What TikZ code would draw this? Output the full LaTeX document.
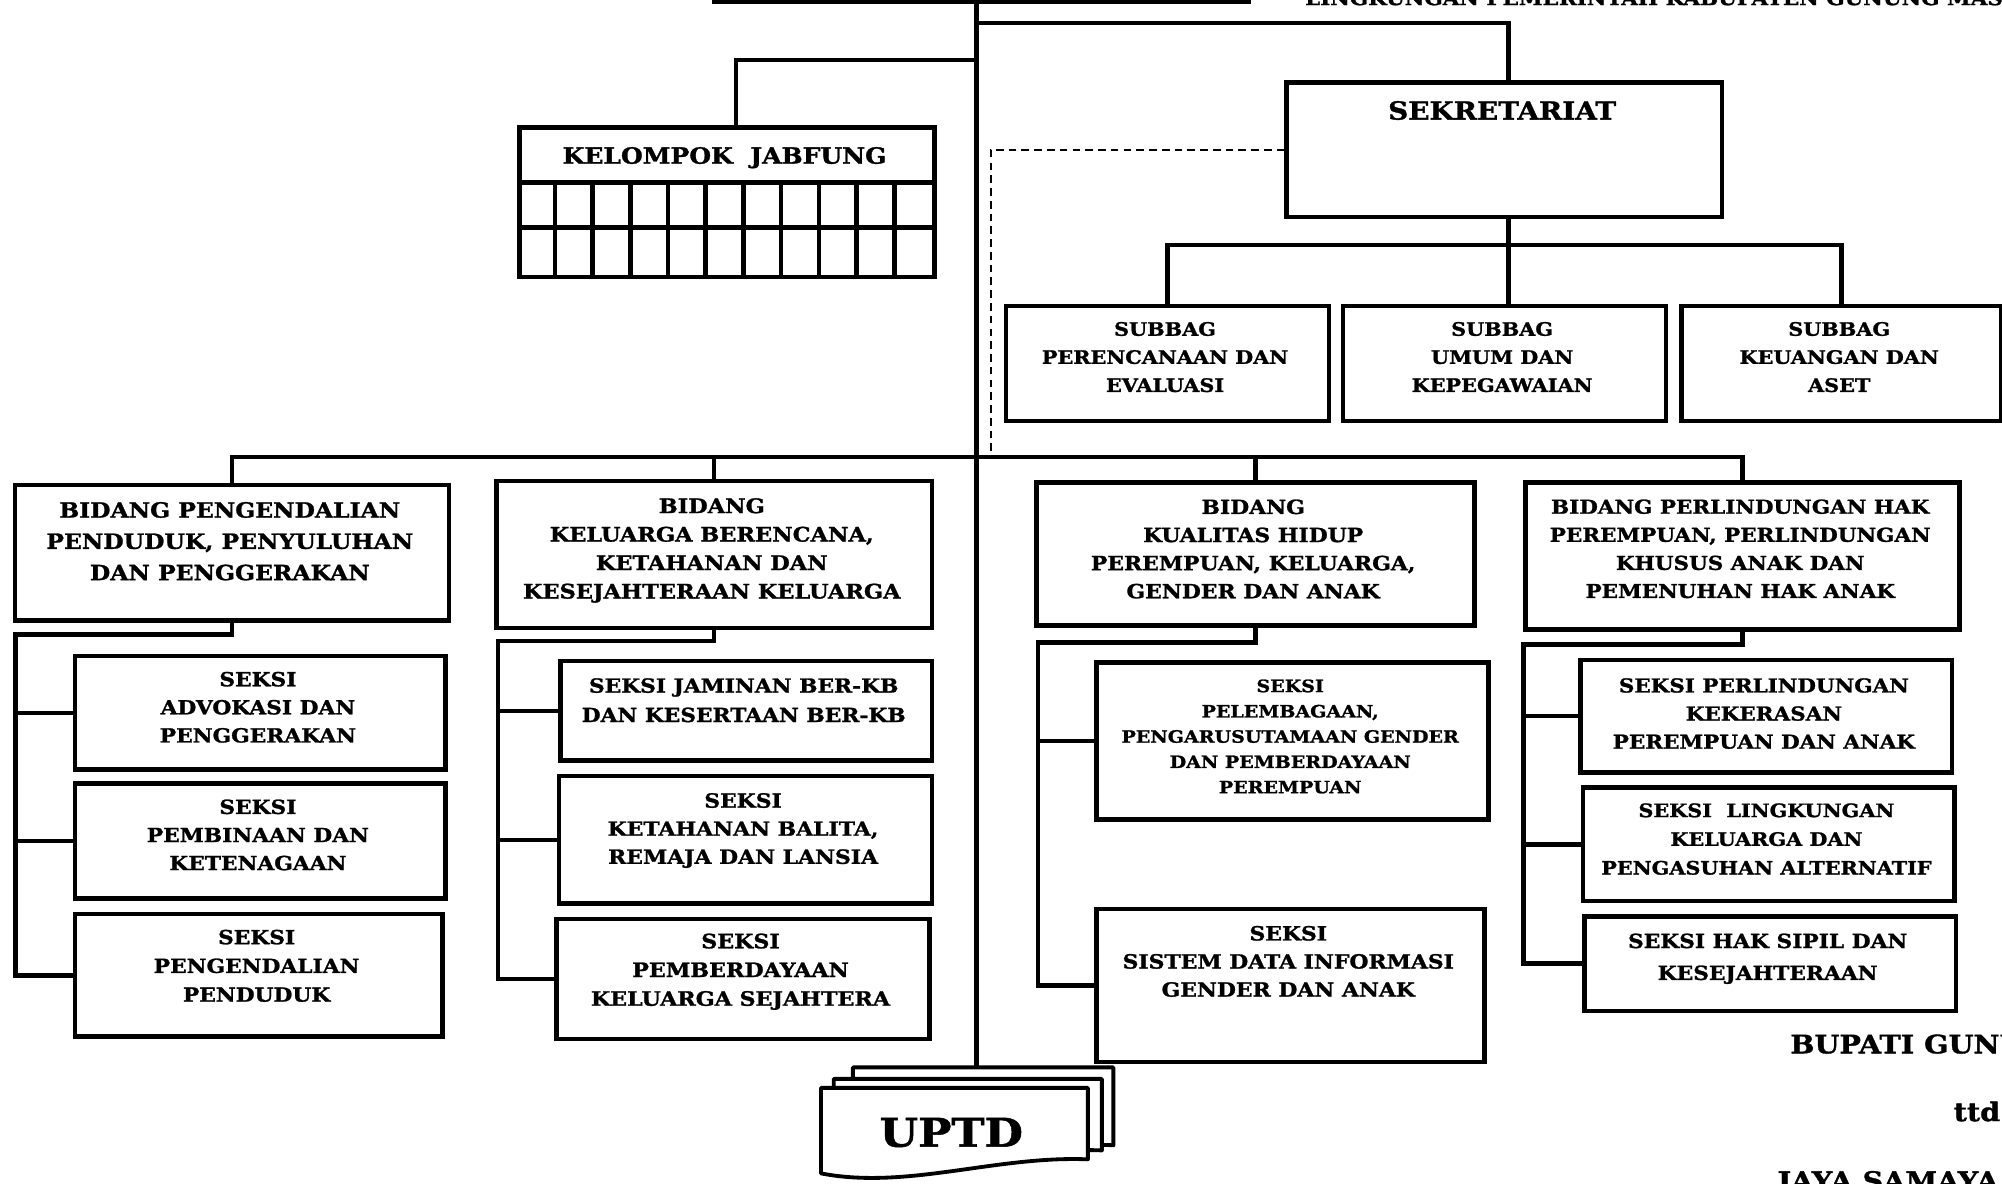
\documentclass[tikz,border=0pt]{standalone}
\usepackage{fontspec}
\setmainfont{DejaVu Serif}[FakeStretch=1.12, BoldFeatures={FakeBold=1.3}]
\usetikzlibrary{calc}
\tikzset{
  box/.style={draw, line width=3.6pt, anchor=north west, inner sep=0pt, fill=white},
  conn/.style={line width=3.6pt},
  dashconn/.style={line width=1.8pt, dash pattern=on 6pt off 4pt},
  txt/.style={align=center, anchor=north, inner sep=0pt},
  page/.style={draw, line width=3pt, fill=white, line join=round},
  sign/.style={anchor=base west, inner sep=0pt, font=\bfseries\fontsize{20}{24}\selectfont}
}
\newcommand\orgbox[9]{%
  \node[box, minimum width={(#4)-(#2)}, minimum height={(#5)-(#3)}] (#1) at (#2,#3) {};
  \node[txt, font=\bfseries\fontsize{#6}{#7}\selectfont] (#1-t) at ({((#2)+(#4))/2},#8) {#9};
}
\begin{document}
\begin{tikzpicture}[x=1pt, y=-1pt]
\useasboundingbox (0,0) rectangle (1568,927);

% header text (cut by the page edge)
\node[anchor=base west, inner sep=0pt, font=\bfseries\fontsize{15}{18}\selectfont] (hdr) at (1022,4) {LINGKUNGAN PEMERINTAH KABUPATEN GUNUNG MAS};

% coordinates on the main line
\coordinate (topl) at (558,1);
\coordinate (topr) at (980,1);
\coordinate (top) at (765,0);
\coordinate (j1) at (765,18);
\coordinate (j2) at (765,47);
\coordinate (bus) at (765,358);
\coordinate (dashend) at (776,358);
\coordinate (uptdtop) at (765,836);

% boxes
\orgbox{sek}{1006}{63}{1347}{168}{19.5}{22}{79}{SEKRETARIAT}
\node[box, minimum width=325, minimum height=117] (kj) at (405,98) {};
\node[txt, font=\bfseries\fontsize{17.5}{18}\selectfont] (kj-t) at (567.5,115) {KELOMPOK\ \ JABFUNG};

\orgbox{sb1}{786}{238}{1039}{328}{14.5}{22}{252}{SUBBAG\\PERENCANAAN DAN\\EVALUASI}
\orgbox{sb2}{1050}{238}{1303}{328}{14.5}{22}{252}{SUBBAG\\UMUM DAN\\KEPEGAWAIAN}
\orgbox{sb3}{1315}{238}{1566}{328}{14.5}{22}{252}{SUBBAG\\KEUANGAN DAN\\ASET}

\orgbox{b1}{10}{378}{350}{484}{16.4}{24.5}{393}{BIDANG PENGENDALIAN\\PENDUDUK, PENYULUHAN\\DAN PENGGERAKAN}
\orgbox{b2}{387}{375}{728}{490}{15.7}{22.3}{390}{BIDANG\\KELUARGA BERENCANA,\\KETAHANAN DAN\\KESEJAHTERAAN KELUARGA}
\orgbox{b3}{810}{376}{1153}{488}{15.3}{22}{391}{BIDANG\\KUALITAS HIDUP\\PEREMPUAN, KELUARGA,\\GENDER DAN ANAK}
\orgbox{b4}{1193}{376}{1533}{491}{15}{22}{391}{BIDANG PERLINDUNGAN HAK\\PEREMPUAN, PERLINDUNGAN\\KHUSUS ANAK DAN\\PEMENUHAN HAK ANAK}

\orgbox{s11}{57}{512}{347}{601}{15.2}{22}{526}{SEKSI\\ADVOKASI DAN\\PENGGERAKAN}
\orgbox{s12}{57}{612}{347}{702}{15.2}{22}{626}{SEKSI\\PEMBINAAN DAN\\KETENAGAAN}
\orgbox{s13}{57}{714}{345}{810}{15.2}{22.5}{728}{SEKSI\\PENGENDALIAN\\PENDUDUK}

\orgbox{s21}{437}{516}{728}{594}{15.2}{23}{531}{SEKSI JAMINAN BER-KB\\DAN KESERTAAN BER-KB}
\orgbox{s22}{436}{606}{728}{706}{15.3}{22}{621}{SEKSI\\KETAHANAN BALITA,\\REMAJA DAN LANSIA}
\orgbox{s23}{434}{718}{726}{812}{15.5}{22.5}{731}{SEKSI\\PEMBERDAYAAN\\KELUARGA SEJAHTERA}

\orgbox{s31}{857}{517}{1164}{640}{13.3}{19.8}{532}{SEKSI\\PELEMBAGAAN,\\PENGARUSUTAMAAN GENDER\\DAN PEMBERDAYAAN\\PEREMPUAN}
\orgbox{s32}{857}{710}{1161}{830}{15.3}{22}{725}{SEKSI\\SISTEM DATA INFORMASI\\GENDER DAN ANAK}

\orgbox{s41}{1236}{515}{1527}{603}{15}{22}{531}{SEKSI PERLINDUNGAN\\KEKERASAN\\PEREMPUAN DAN ANAK}
\orgbox{s42}{1238}{615}{1529}{704}{14.5}{22.5}{629}{SEKSI\ \ LINGKUNGAN\\KELUARGA DAN\\PENGASUHAN ALTERNATIF}
\orgbox{s43}{1239}{716}{1530}{790}{15.2}{25}{731}{SEKSI HAK SIPIL DAN\\KESEJAHTERAAN}

% jabfung grid
\draw[conn] ($(kj.north west)+(0,45)$) -- ($(kj.north east)+(0,45)$);
\draw[conn] ($(kj.north west)+(0,80)$) -- ($(kj.north east)+(0,80)$);
\foreach \i in {1,...,10}{
  \draw[conn] ($(kj.north west)+({\i*325/11},45)$) -- ($(kj.south west)+({\i*325/11},0)$);
}

% connectors
\draw[conn] (topl) -- (topr);
\draw[conn] (top) -- (uptdtop);
\draw[conn] (j1) -| ([xshift=3pt]sek.north);
\draw[conn] (j2) -| ([xshift=7pt]kj.north);
\draw[dashconn] (sek.west) -| (dashend);

\draw[conn] ([xshift=3pt]sek.south) -- ([xshift=3pt]sb2.north);
\draw[conn] (sb1.north) -- ++(0,-46) -| (sb3.north);

\draw[conn] (b1.north) -- ++(0,-20) -| (b4.north);
\draw[conn] (b2.north) -- (b2.north |- bus);
\draw[conn] (b3.north) -- (b3.north |- bus);

\coordinate (sp1) at (12,497);
\draw[conn] (b1.south) |- (sp1) -- (sp1 |- s13.west) -- (s13.west);
\draw[conn] (sp1 |- s11.west) -- (s11.west);
\draw[conn] (sp1 |- s12.west) -- (s12.west);

\coordinate (sp2) at (390,502);
\draw[conn] (b2.south) |- (sp2) -- (sp2 |- s23.west) -- (s23.west);
\draw[conn] (sp2 |- s21.west) -- (s21.west);
\draw[conn] (sp2 |- s22.west) -- (s22.west);

\coordinate (sp3) at (813,503);
\draw[conn] (b3.south) |- (sp3) -- (sp3 |- s32.west) -- (s32.west);
\draw[conn] (sp3 |- s31.west) -- (s31.west);

\coordinate (sp4) at (1193,505);
\draw[conn] (b4.south) |- (sp4) -- (sp4 |- s43.west) -- (s43.west);
\draw[conn] (sp4 |- s41.west) -- (s41.west);
\draw[conn] (sp4 |- s42.west) -- (s42.west);

% UPTD stacked pages
\draw[page] (668,905) -- (668,836) -- (872,836) -- (872,897) .. controls (800,893) and (735,918) .. cycle;
\draw[page] (653,912) -- (653,845) -- (863,845) -- (863,901) .. controls (790,898) and (720,925) .. cycle;
\draw[page] (643,919) -- (643,852) -- (852,852) -- (852,908) .. controls (780,905) and (710,932) .. cycle;
\node[inner sep=0pt, font=\bfseries\fontsize{31}{36}\selectfont] (uptd) at (745,887) {UPTD};

% signature block (cut by the page edge)
\node[sign] (bup) at (1402,825) {BUPATI GUNUNG MAS};
\node[sign] (ttd) at (1530,878) {ttd};
\node[sign] (nama) at (1392,932) {JAYA SAMAYA MONONG};
\end{tikzpicture}
\end{document}
